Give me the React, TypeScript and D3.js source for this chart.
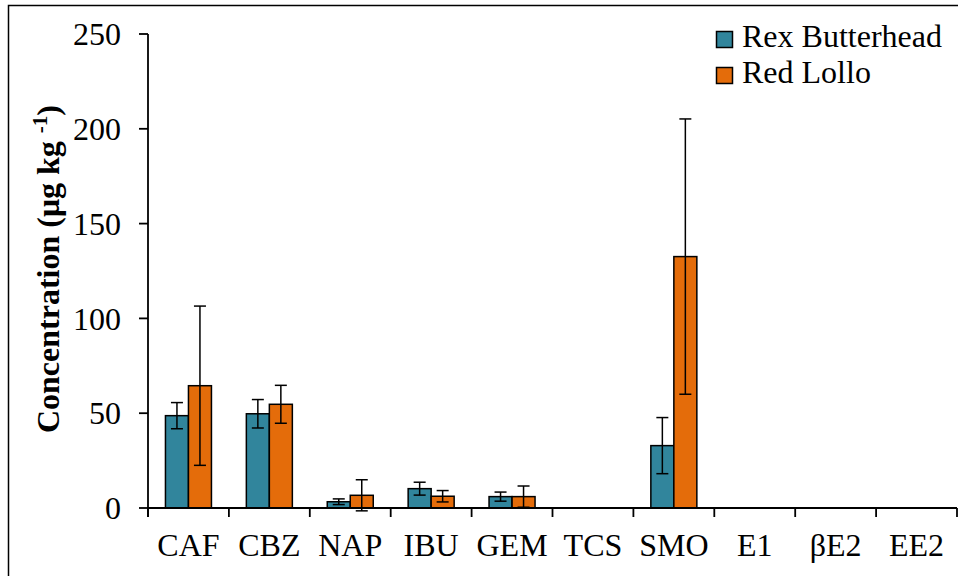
import React from 'react';
import * as d3 from 'd3';

// compounds on the x axis
const categories = ['CAF', 'CBZ', 'NAP', 'IBU', 'GEM', 'TCS', 'SMO', 'E1', 'βE2', 'EE2'];
const seriesNames = ['Rex Butterhead', 'Red Lollo'];
const seriesColors = ['#31859C', '#E46C0A'];

// mean concentrations (µg kg-1)
const rexValues = [48.7, 49.7, 3.3, 10.2, 6.0, 0, 32.9, 0, 0, 0];
const lolloValues = [64.5, 54.7, 6.7, 6.2, 6.0, 0, 132.6, 0, 0, 0];
// standard deviations
const rexErrors = [6.9, 7.5, 1.5, 3.4, 2.4, 0, 14.8, 0, 0, 0];
const lolloErrors = [42, 10, 8.2, 3, 5.6, 0, 72.6, 0, 0, 0];

const yTicks = [0, 50, 100, 150, 200, 250];

const W = 958;
const H = 576;
const FONT = 'Liberation Serif';

const left = 148;
const right = 957;
const top = 34;
const bottom = 508;

const x = d3.scaleBand<string>().domain(categories).range([left, right]).padding(0);
const bw = x.bandwidth();
const x1 = d3.scaleBand<string>().domain(seriesNames).range([bw * 0.2157, bw * 0.7843]).padding(0);
const y = d3.scaleLinear().domain([0, 250]).range([bottom, top]);

const series = [
  { name: seriesNames[0], values: rexValues, errors: rexErrors, color: seriesColors[0] },
  { name: seriesNames[1], values: lolloValues, errors: lolloErrors, color: seriesColors[1] }
];

const App = () => {
  const boundaries = categories.map(c => x(c) as number).concat([right]);

  return (
    <div>
      <style>{'body{margin:0}'}</style>
      <svg width={W} height={H} style={{ display: 'block', background: '#fff' }}>
        {/* outer frame, only the left and top edges are visible */}
        <path d={`M8.5,${H} V5.5 H${W}`} fill="none" stroke="#000" strokeWidth={1.5} />

        {/* bars */}
        {series.map(s =>
          categories.map((c, i) => {
            const v = s.values[i];
            if (!v) return null;
            return (
              <rect
                key={s.name + c}
                x={(x(c) as number) + (x1(s.name) as number)}
                y={y(v)}
                width={x1.bandwidth()}
                height={y(0) - y(v)}
                fill={s.color}
                stroke="#000"
                strokeWidth={1.5}
              />
            );
          })
        )}

        {/* error bars */}
        {series.map(s =>
          categories.map((c, i) => {
            const v = s.values[i];
            const e = s.errors[i];
            if (!v || !e) return null;
            const cx = (x(c) as number) + (x1(s.name) as number) + x1.bandwidth() / 2;
            const y0 = y(v - e);
            const y1 = y(v + e);
            return (
              <g key={'e' + s.name + c} stroke="#000" strokeWidth={1.5}>
                <line x1={cx} x2={cx} y1={y0} y2={y1} />
                <line x1={cx - 6} x2={cx + 6} y1={y0} y2={y0} />
                <line x1={cx - 6} x2={cx + 6} y1={y1} y2={y1} />
              </g>
            );
          })
        )}

        {/* y axis */}
        <line x1={left} x2={left} y1={top} y2={bottom + 9} stroke="#000" strokeWidth={1.8} />
        {yTicks.map(t => (
          <g key={t}>
            <line x1={left - 9} x2={left} y1={y(t)} y2={y(t)} stroke="#000" strokeWidth={1.8} />
            <text
              x={left - 27}
              y={y(t)}
              dy="0.35em"
              textAnchor="end"
              fontFamily={FONT}
              fontSize={32}
              fill="#000"
            >
              {t}
            </text>
          </g>
        ))}

        {/* x axis */}
        <line x1={left} x2={right} y1={bottom} y2={bottom} stroke="#000" strokeWidth={1.8} />
        {boundaries.map(b => (
          <line key={b} x1={b} x2={b} y1={bottom} y2={bottom + 9} stroke="#000" strokeWidth={1.8} />
        ))}
        {categories.map(c => (
          <text
            key={c}
            x={(x(c) as number) + bw / 2}
            y={bottom + 48}
            textAnchor="middle"
            fontFamily={FONT}
            fontSize={32}
            fill="#000"
          >
            {c}
          </text>
        ))}

        {/* y label */}
        <text
          transform={`translate(59,269) rotate(-90)`}
          textAnchor="middle"
          fontFamily={FONT}
          fontSize={32}
          fontWeight="bold"
          fill="#000"
        >
          Concentration (μg kg <tspan fontSize={21} dy={-12}>-1</tspan>
          <tspan dy={12}>)</tspan>
        </text>

        {/* legend */}
        <g transform="translate(716,31)">
          {series.map((s, i) => (
            <g key={s.name}>
              <rect
                x={0.5}
                y={i * 36 + 0.5}
                width={16}
                height={16}
                fill={s.color}
                stroke="#000"
                strokeWidth={1.5}
              />
              <text x={26} y={i * 36 + 16} fontFamily={FONT} fontSize={32} fill="#000">
                {s.name}
              </text>
            </g>
          ))}
        </g>
      </svg>
    </div>
  );
};

export default App;
